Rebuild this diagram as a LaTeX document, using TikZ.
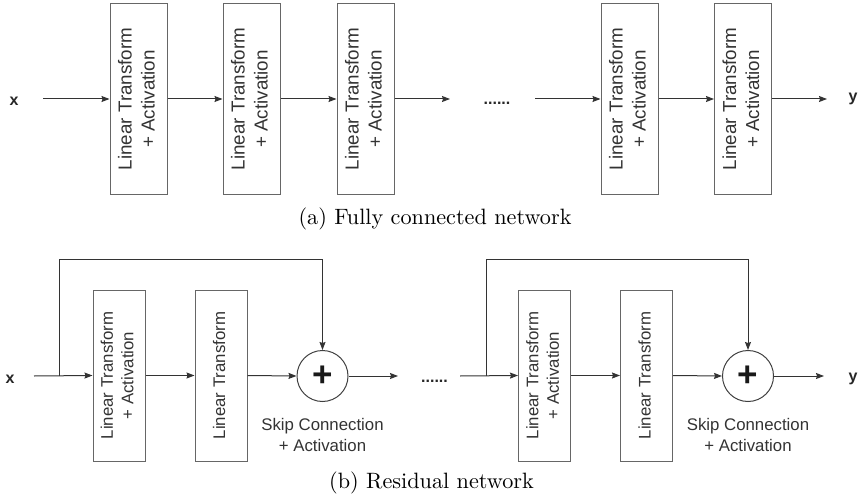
\documentclass[tikz,border=0pt]{standalone}
\usepackage{fontspec}
\usepackage{graphicx}
\newfontfamily\dsans{Liberation Sans}
\usetikzlibrary{arrows.meta}

% vertical two-line label inside a layer box
\newcommand\layertext[1]{\rotatebox{90}{\begin{tabular}{@{}c@{}}#1\end{tabular}}}

\begin{document}
\begin{tikzpicture}[x=1pt,y=-1pt,
  link/.style={draw=black!80, line width=1pt, -{Stealth[length=8pt,width=6pt,inset=1pt]}},
  layer/.style={draw=black!60, line width=1pt, inner sep=0pt, text=black!80},
  biglayer/.style={layer, minimum width=57pt, minimum height=190pt,
    font=\dsans\fontsize{18.8}{23}\selectfont},
  smalllayer/.style={layer, minimum width=52pt, minimum height=171pt,
    font=\dsans\fontsize{16.8}{20.5}\selectfont},
  sumnode/.style={circle, draw=black!75, line width=1pt, minimum size=51pt, inner sep=0pt,
    text=black!90, font=\dsans\bfseries\fontsize{35}{35}\selectfont},
  io/.style={font=\dsans\bfseries\fontsize{16}{16}\selectfont, text=black!85, anchor=base, inner sep=0pt},
  dots/.style={font=\dsans\bfseries\fontsize{16}{16}\selectfont, text=black!85, anchor=base, inner sep=0pt},
  note/.style={font=\dsans\fontsize{16.8}{21.5}\selectfont, text=black!80, align=center,
    anchor=north, inner sep=0pt},
  caption/.style={scale=2.22, anchor=base, inner sep=0pt}
]
\useasboundingbox (0,0) rectangle (859,500);

% ---------- (a) fully connected network ----------
\node[io] (x1) at (14,106) {x};
\coordinate (xs) at (43,99);
\node[biglayer] (a1) at (138.5,99) {\layertext{Linear Transform\\+ Activation}};
\node[biglayer] (a2) at (251.5,99) {\layertext{Linear Transform\\+ Activation}};
\node[biglayer] (a3) at (365.5,99) {\layertext{Linear Transform\\+ Activation}};
\coordinate (a3out) at (450,99);
\node[dots] (d1) at (497,105) {......};
\coordinate (a4in) at (535,99);
\node[biglayer] (a4) at (629.5,99) {\layertext{Linear Transform\\+ Activation}};
\node[biglayer] (a5) at (743,99) {\layertext{Linear Transform\\+ Activation}};
\coordinate (aend) at (827,99);
\node[io] (y1) at (853,102) {y};

\draw[link] (xs) -- (a1.west);
\draw[link] (a1.east) -- (a2.west);
\draw[link] (a2.east) -- (a3.west);
\draw[link] (a3.east) -- (a3out);
\draw[link] (a4in) -- (a4.west);
\draw[link] (a4.east) -- (a5.west);
\draw[link] (a5.east) -- (aend);

\node[caption] (capa) at (435,224) {(a)~Fully connected network};

% ---------- (b) residual network ----------
\node[io] (x2) at (10,383) {x};
\coordinate (bs) at (34,376);
\coordinate (bj1) at (59,376);
\coordinate (k1) at (59,259);
\node[smalllayer] (b1) at (119,375.5) {\layertext{Linear Transform\\+ Activation}};
\node[smalllayer] (b2) at (221,375.5) {\layertext{Linear Transform}};
\node[sumnode] (s1) at (322.5,376) {+};
\node[note] (n1) at (322.5,418) {Skip Connection\\+ Activation};
\coordinate (s1out) at (398,376);
\node[dots] (d2) at (434.5,382) {......};

\coordinate (cs) at (460,376);
\coordinate (bj2) at (486,376);
\coordinate (k2) at (486,259);
\node[smalllayer] (c1) at (544.5,375.5) {\layertext{Linear Transform\\+ Activation}};
\node[smalllayer] (c2) at (646.5,375.5) {\layertext{Linear Transform}};
\node[sumnode] (s2) at (748,376) {+};
\node[note] (n2) at (748,418) {Skip Connection\\+ Activation};
\coordinate (cend) at (824,376);
\node[io] (y2) at (853,381) {y};

\draw[link] (bs) -- (b1.west);
\draw[link] (bj1) -- (k1) -| (s1.north);
\draw[link] (b1.east) -- (b2.west);
\draw[link] (b2.east) -- (s1.west);
\draw[link] (s1.east) -- (s1out);

\draw[link] (cs) -- (c1.west);
\draw[link] (bj2) -- (k2) -| (s2.north);
\draw[link] (c1.east) -- (c2.west);
\draw[link] (c2.east) -- (s2.west);
\draw[link] (s2.east) -- (cend);

\node[caption] (capb) at (431.5,488) {(b)~Residual network};
\end{tikzpicture}
\end{document}
